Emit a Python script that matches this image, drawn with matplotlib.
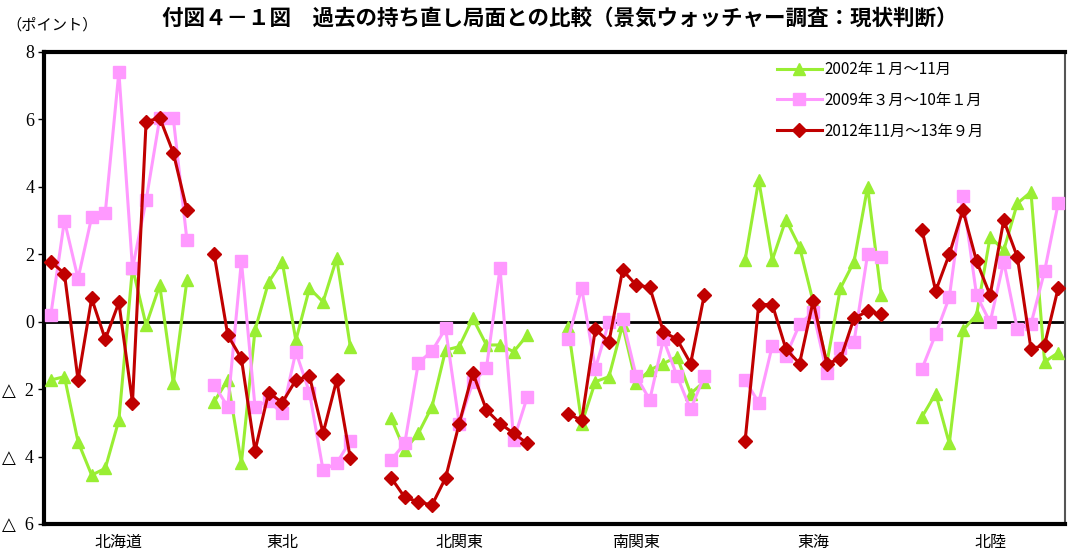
import numpy as np
import matplotlib.pyplot as plt

plt.rcParams['font.family'] = ['Noto Sans CJK JP', 'DejaVu Sans']

regions = ["北海道", "東北", "北関東", "南関東", "東海", "北陸"]
group_start = [0, 12, 25, 38, 51, 64]   # slot where each region's 11 months start
n_slots = 75

# 2002年1月～11月
s2002 = [
    [-1.73, -1.63, -3.56, -4.55, -4.35, -2.92, 1.6, -0.1, 1.08, -1.83, 1.23],
    [-2.37, -1.73, -4.2, -0.25, 1.18, 1.78, -0.55, 0.99, 0.59, 1.88, -0.74],
    [-2.87, -3.81, -3.31, -2.52, -0.84, -0.74, 0.1, -0.69, -0.69, -0.89, -0.4],
    [-0.15, -3.02, -1.78, -1.63, -0.1, -1.83, -1.43, -1.24, -1.04, -2.13, -1.78],
    [1.83, 4.2, 1.83, 3.03, 2.22, 0.59, -1.24, 0.99, 1.78, 4.0, 0.79],
    [-2.82, -2.13, -3.61, -0.25, 0.2, 2.52, 2.12, 3.51, 3.85, -1.19, -0.92],
]
# 2009年3月～10年1月
s2009 = [
    [0.2, 3.0, 1.28, 3.1, 3.23, 7.41, 1.58, 3.6, 6.03, 6.03, 2.42],
    [-1.88, -2.52, 1.8, -2.52, -2.35, -2.72, -0.89, -2.1, -4.4, -4.2, -3.53],
    [-4.1, -3.61, -1.22, -0.87, -0.2, -3.02, -1.8, -1.38, 1.59, -3.51, -2.23],
    [-0.52, 0.99, -1.39, 0.0, 0.07, -1.61, -2.32, -0.52, -1.61, -2.6, -1.61],
    [-1.73, -2.4, -0.71, -1.02, -0.08, 0.29, -1.51, -0.79, -0.6, 2.0, 1.92],
    [-1.39, -0.37, 0.72, 3.72, 0.79, -0.02, 1.78, -0.22, -0.07, 1.5, 3.51],
]
# 2012年11月～13年9月
s2012 = [
    [1.78, 1.43, -1.73, 0.69, -0.52, 0.57, -2.4, 5.93, 6.05, 5.01, 3.31],
    [2.0, -0.4, -1.09, -3.83, -2.1, -2.4, -1.73, -1.61, -3.31, -1.73, -4.05],
    [-4.63, -5.21, -5.34, -5.44, -4.63, -3.02, -1.51, -2.62, -3.02, -3.31, -3.61],
    [-2.74, -2.92, -0.22, -0.6, 1.53, 1.09, 1.02, -0.3, -0.52, -1.24, 0.79],
    [-3.54, 0.51, 0.51, -0.81, -1.24, 0.61, -1.24, -1.11, 0.1, 0.31, 0.22],
    [2.72, 0.91, 2.0, 3.31, 1.8, 0.79, 3.01, 1.92, -0.81, -0.69, 1.0],
]

series = [
    ("2002年１月～11月", s2002, "#99EE33", "^", 9),
    ("2009年３月～10年１月", s2009, "#FF99FF", "s", 9),
    ("2012年11月～13年９月", s2012, "#C00000", "D", 7),
]

fig = plt.figure(figsize=(10.68, 5.6), dpi=100)
ax = fig.add_axes([44 / 1068, 1 - 524 / 560, 1021 / 1068, 472 / 560])

for label, data, color, marker, ms in series:
    for i, start in enumerate(group_start):
        x = np.arange(start, start + 11)
        ax.plot(x, data[i], color=color, marker=marker, markersize=ms, lw=2.2,
                label=label if i == 0 else None, zorder=3)

ax.axhline(0, color="black", lw=2, zorder=2)
ax.set_xlim(-0.5, n_slots - 0.5)
ax.set_ylim(-6, 8)

yt = [8, 6, 4, 2, 0, -2, -4, -6]
ytl = ["8", "6", "4", "2", "0", "△  2", "△  4", "△  6"]
ax.set_yticks(yt)
ax.set_yticklabels(ytl, family=['Liberation Serif', 'DejaVu Sans'], fontsize=13)
ax.tick_params(axis='y', length=4, width=1, pad=3)
ax.set_xticks([])
for i, name in enumerate(regions):
    ax.text(group_start[i] + 5, -6.3, name, ha="center", va="top", fontsize=11.5)

for side in ["left", "top", "bottom"]:
    ax.spines[side].set_linewidth(3)
ax.spines["right"].set_linewidth(1.5)
ax.spines["right"].set_color("#555555")

ax.legend(loc="upper left", bbox_to_anchor=(0.704, 1.01), frameon=False,
          fontsize=11, handlelength=3.0, labelspacing=0.9, handletextpad=0.15)

fig.text(560 / 1068, 1 - 18 / 560, "付図４－１図　過去の持ち直し局面との比較（景気ウォッチャー調査：現状判断）",
         ha="center", va="center", fontsize=15.5, fontweight="bold")
fig.text(6 / 1068, 1 - 25 / 560, "（ポイント）", ha="left", va="center", fontsize=11)

fig.savefig("out.png", dpi=100)
